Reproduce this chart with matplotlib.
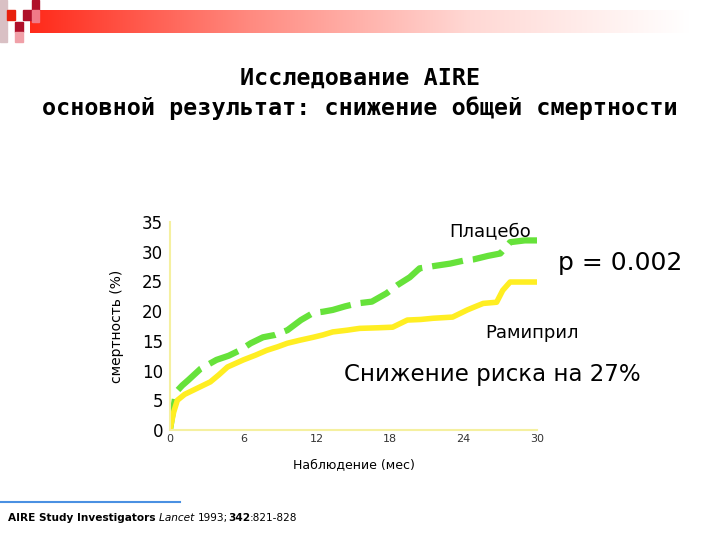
import matplotlib
matplotlib.use('Agg')
import matplotlib.pyplot as plt
from matplotlib.patches import Rectangle
from matplotlib.colors import LinearSegmentedColormap
import numpy as np

# Placebo (months, % mortality)
placebo_t = [0, 0.3, 0.5, 1.0, 1.5, 2.5, 3.8, 4.8, 5.7, 6.6, 7.6, 8.6, 9.6, 10.7, 11.7, 12.5,
             13.3, 14.3, 15.3, 16.5, 17.7, 18.6, 19.6, 20.4, 21.6, 22.9, 24.0, 24.8, 26.0, 27.0,
             27.8, 29.0, 30.0]
placebo_v = [0, 4.0, 6.4, 7.5, 8.4, 10.3, 11.8, 12.5, 13.4, 14.6, 15.6, 16.0, 16.8, 18.5, 19.7, 19.9,
             20.2, 20.8, 21.3, 21.6, 23.0, 24.4, 25.7, 27.2, 27.6, 28.0, 28.5, 28.7, 29.3, 29.7,
             31.6, 31.9, 31.9]

# Ramipril
ramipril_t = [0, 0.3, 0.6, 1.2, 1.9, 2.6, 3.3, 4.0, 4.7, 6.0, 7.0, 7.9, 8.8, 9.6, 10.6, 11.7,
              12.5, 13.3, 14.5, 15.5, 17.0, 18.2, 19.4, 20.5, 21.5, 23.1, 24.3, 25.0, 25.6,
              26.7, 27.2, 27.8, 29.0, 30.0]
ramipril_v = [0, 3.0, 5.0, 6.0, 6.7, 7.4, 8.1, 9.3, 10.6, 11.8, 12.6, 13.4, 14.0, 14.6, 15.1, 15.6,
              16.0, 16.5, 16.8, 17.1, 17.2, 17.3, 18.5, 18.6, 18.8, 19.0, 20.2, 20.8, 21.3,
              21.5, 23.5, 24.9, 24.9, 24.9]

x_ticks = [0, 6, 12, 18, 24, 30]
y_ticks = [0, 5, 10, 15, 20, 25, 30, 35]

fig = plt.figure(figsize=(7.2, 5.4), dpi=100)

# background layer in pixel coordinates (top-left origin)
bg = fig.add_axes([0, 0, 1, 1])
bg.set_xlim(0, 720)
bg.set_ylim(540, 0)
bg.axis('off')

# red gradient banner
grad = np.linspace(0, 1, 256).reshape(1, -1)
cmap = LinearSegmentedColormap.from_list('banner', ['#ff2a1a', '#ff8a80', '#ffd8d4', '#ffffff'])
bg.imshow(grad, extent=[30, 690, 33, 10], cmap=cmap, aspect='auto', zorder=1)

# checker squares
squares = [(0, 0, 7, 42, '#d9c0c4'), (7, 10, 8, 10, '#e8200c'), (15, 22, 8, 10, '#b0102a'),
           (15, 32, 8, 10, '#f0a0a8'), (23, 10, 9, 10, '#b0102a'), (32, 0, 7, 10, '#b0102a'),
           (32, 10, 7, 12, '#f07a88')]
for x0, y0, w, h, c in squares:
    bg.add_patch(Rectangle((x0, y0), w, h, color=c, zorder=2))

# title
bg.text(360, 78, 'Исследование AIRE', ha='center', va='center', fontsize=16.8,
        fontweight='bold', family='DejaVu Sans Mono')
bg.text(360, 108, 'основной результат: снижение общей смертности', ha='center', va='center',
        fontsize=16.8, fontweight='bold', family='DejaVu Sans Mono')

# citation, pieces chained left to right
bg.plot([0, 180], [502, 502], color='#4a90e2', lw=1.5)
pieces = [('AIRE Study Investigators ', dict(fontweight='bold')),
          ('Lancet ', dict(style='italic')),
          ('1993;', dict()),
          ('342', dict(fontweight='bold')),
          (':821-828', dict())]
renderer = fig.canvas.get_renderer()
xpos = 8
for txt, kw in pieces:
    t = bg.text(xpos, 518, txt, ha='left', va='center', fontsize=7.6, **kw)
    bb = t.get_window_extent(renderer)
    xpos += bb.width

# main chart
ax = fig.add_axes([170 / 720, 1 - 430 / 540, (537 - 170) / 720, (430 - 222) / 540])
ax.patch.set_alpha(0)
ax.plot(placebo_t, placebo_v, color='#66e23a', lw=4.5, dashes=(5, 1.6),
        solid_capstyle='butt', dash_capstyle='butt')
ax.plot(ramipril_t, ramipril_v, color='#ffee22', lw=4)
ax.set_xlim(0, 30)
ax.set_ylim(0, 35)
ax.set_xticks(x_ticks)
ax.set_yticks(y_ticks)
ax.tick_params(axis='x', labelsize=8, length=0, pad=3, colors='#333333')
ax.tick_params(axis='y', labelsize=12, length=0, pad=5)
for s in ['top', 'right']:
    ax.spines[s].set_visible(False)
for s in ['left', 'bottom']:
    ax.spines[s].set_color('#f5f0a0')
    ax.spines[s].set_linewidth(1.5)
ax.set_ylabel('смертность (%)', fontsize=10, labelpad=2)
ax.set_xlabel('Наблюдение (мес)', fontsize=9, labelpad=10)
ax.yaxis.set_label_coords(-0.125, 0.5)

# annotations
bg.text(490, 231, 'Плацебо', ha='center', va='center', fontsize=13, zorder=5)
bg.text(620, 263, 'p = 0.002', ha='center', va='center', fontsize=18, zorder=5)
bg.text(532, 333, 'Рамиприл', ha='center', va='center', fontsize=13, zorder=5)
bg.text(492, 374, 'Снижение риска на 27%', ha='center', va='center', fontsize=16.5, zorder=5)

fig.savefig('out.png', dpi=100)
